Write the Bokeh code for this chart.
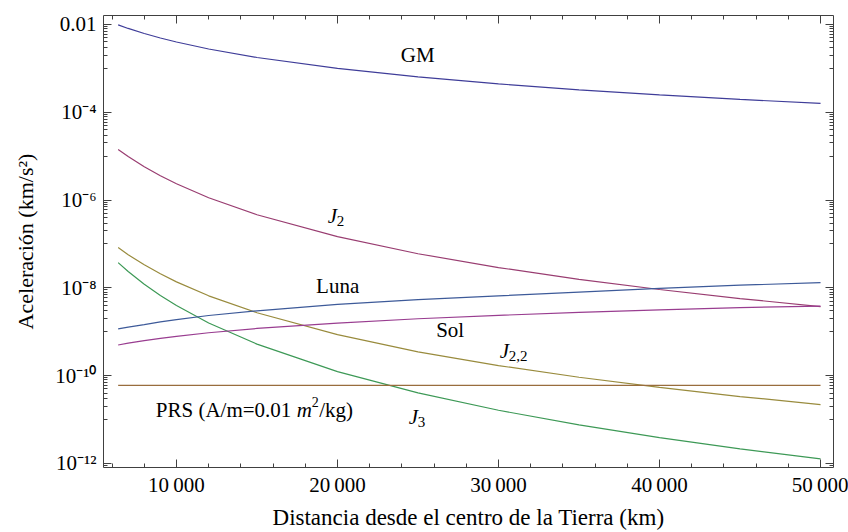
from bokeh.plotting import figure
from bokeh.models import Range1d, FixedTicker, LinearAxis, LogAxis, Label, CustomLabelingPolicy
from bokeh.embed import file_html
from bokeh.resources import INLINE

# ---- data (km, km/s^2) ----
x_km = [6378, 7000, 8000, 9000, 10000, 12000, 15000, 20000, 25000, 30000, 35000, 40000, 45000, 50000]
acc_gm = [9.8e-3, 8.13e-3, 6.23e-3, 4.92e-3, 3.99e-3, 2.77e-3, 1.77e-3, 9.97e-4, 6.38e-4, 4.43e-4, 3.25e-4, 2.49e-4, 1.97e-4, 1.59e-4]
acc_j2 = [1.42e-5, 9.79e-6, 5.74e-6, 3.58e-6, 2.35e-6, 1.133e-6, 4.64e-7, 1.47e-7, 6.0e-8, 2.9e-8, 1.57e-8, 9.2e-9, 5.7e-9, 3.76e-9]
acc_j22 = [8.3e-8, 5.72e-8, 3.35e-8, 2.09e-8, 1.37e-8, 6.6e-9, 2.71e-9, 8.6e-10, 3.5e-10, 1.70e-10, 9.2e-11, 5.4e-11, 3.35e-11, 2.2e-11]
acc_j3 = [3.76e-8, 2.36e-8, 1.21e-8, 6.72e-9, 3.97e-9, 1.59e-9, 5.23e-10, 1.24e-10, 4.06e-11, 1.63e-11, 7.56e-12, 3.88e-12, 2.15e-12, 1.27e-12]
acc_luna = [1.16e-9, 1.28e-9, 1.45e-9, 1.68e-9, 1.9e-9, 2.35e-9, 3.0e-9, 4.2e-9, 5.4e-9, 6.6e-9, 8.0e-9, 9.7e-9, 1.15e-8, 1.32e-8]
acc_sol = [5.0e-10, 5.5e-10, 6.3e-10, 7.1e-10, 7.9e-10, 9.5e-10, 1.19e-9, 1.58e-9, 1.98e-9, 2.37e-9, 2.77e-9, 3.16e-9, 3.56e-9, 3.85e-9]
x_prs = [6378, 50000]
acc_prs = [6.0e-11, 6.0e-11]

x_ticks = [10000, 20000, 30000, 40000, 50000]
x_tick_labels = ["10\u2009000", "20\u2009000", "30\u2009000", "40\u2009000", "50\u2009000"]
x_minor = [m for m in range(6000, 50001, 2000) if m % 10000 != 0]
y_exponents = [-12, -10, -8, -6, -4, -2]
y_tick_labels = ["10\u207b\u00b9\u00b2", "10\u207b\u00b9\u2070", "10\u207b\u2078", "10\u207b\u2076", "10\u207b\u2074", "0.01"]

FONT = "Liberation Serif"
FRAME = "#404040"
C_GM, C_J2, C_J22, C_J3, C_LUNA, C_SOL, C_PRS = "#3F3D99", "#993D71", "#998B3D", "#3D9956", "#3D5A99", "#993D90", "#996D3D"

p = figure(width=848, height=532, x_range=Range1d(5468, 50805), y_range=Range1d(8.1e-13, 0.01603),
           y_axis_type="log", output_backend="svg", toolbar_location=None,
           min_border_left=103, min_border_right=15, min_border_top=15, min_border_bottom=65)
p.xgrid.visible = False
p.ygrid.visible = False
p.outline_line_color = FRAME
p.outline_line_width = 1
p.background_fill_color = "white"
p.border_fill_color = "white"

y_major = [10.0 ** e for e in y_exponents]
y_minor = [k * 10.0 ** (e - 1) for e in y_exponents for k in range(1, 10)]

xt = FixedTicker(ticks=x_ticks, minor_ticks=x_minor)
yt = FixedTicker(ticks=y_major, minor_ticks=y_minor)

hide_all = CustomLabelingPolicy(code="""
for (let i = 0; i < indices.size; i++) { indices.unset(i) }
return indices
""")


def style(ax):
    ax.axis_line_color = None
    ax.major_tick_in = 8
    ax.major_tick_out = 0
    ax.minor_tick_in = 4
    ax.minor_tick_out = 0
    ax.major_tick_line_color = FRAME
    ax.minor_tick_line_color = FRAME
    ax.major_label_text_font = FONT
    ax.major_label_text_font_size = "21px"
    ax.major_label_text_color = "black"
    ax.axis_label_text_font = FONT
    ax.axis_label_text_font_size = "22px"
    ax.axis_label_text_font_style = "normal"
    ax.axis_label_text_color = "black"


xa = p.xaxis[0]
xa.ticker = xt
style(xa)
xa.major_label_overrides = {t: l for t, l in zip(x_ticks, x_tick_labels)}
xa.major_label_standoff = 5
xa.axis_label = "Distancia desde el centro de la Tierra (km)"
xa.axis_label_text_font_size = "23px"
xa.axis_label_standoff = 5

ya = p.yaxis[0]
ya.ticker = yt
style(ya)
ya.major_label_overrides = {v: l for v, l in zip(y_major, y_tick_labels)}
ya.major_label_standoff = 7
ya.axis_label = "Aceleración (km/s²)"
ya.axis_label_standoff = 14

top = LinearAxis(ticker=xt)
style(top)
top.major_label_text_font_size = "1px"
top.major_label_policy = hide_all
top.major_label_standoff = 0
p.add_layout(top, "above")

right = LogAxis(ticker=yt)
style(right)
right.major_label_text_font_size = "1px"
right.major_label_policy = hide_all
right.major_label_standoff = 0
p.add_layout(right, "right")

# ---- curves ----
p.line(x_km, acc_gm, line_color=C_GM, line_width=1.2)
p.line(x_km, acc_j2, line_color=C_J2, line_width=1.2)
p.line(x_km, acc_j22, line_color=C_J22, line_width=1.2)
p.line(x_km, acc_j3, line_color=C_J3, line_width=1.2)
p.line(x_km, acc_luna, line_color=C_LUNA, line_width=1.2)
p.line(x_km, acc_sol, line_color=C_SOL, line_width=1.2)
p.line(x_prs, acc_prs, line_color=C_PRS, line_width=1.2)

LIFT = 7  # px


def lab(x, y, text, size="21px", style_="normal", align="left", xo=0, yo=0):
    p.add_layout(Label(x=x, y=y, text=text, text_font=FONT, text_font_size=size,
                       text_font_style=style_, text_align=align, text_baseline="alphabetic",
                       x_offset=xo, y_offset=yo + LIFT, text_color="black"))


lab(24980, 1.365e-3, "GM", align="center")
lab(19393, 2.95e-7, "J", style_="italic")
lab(19393, 2.95e-7, "2", size="15px", xo=9, yo=-5)
lab(20013, 7.53e-9, "Luna", align="center")
lab(26998, 7.5e-10, "Sol", align="center")
lab(30070, 2.49e-10, "J", style_="italic")
lab(30070, 2.49e-10, "2,2", size="15px", xo=9, yo=-5)
lab(24421, 7.85e-12, "J", style_="italic")
lab(24421, 7.85e-12, "3", size="15px", xo=9, yo=-5)
lab(8715, 1.13e-11, "PRS (A/m=0.01")
lab(8715, 1.13e-11, "m", style_="italic", xo=141)
lab(8715, 1.13e-11, "2", size="14px", xo=156, yo=8)
lab(8715, 1.13e-11, "/kg)", xo=163.5)

open("out.html", "w").write(file_html(p, INLINE))
